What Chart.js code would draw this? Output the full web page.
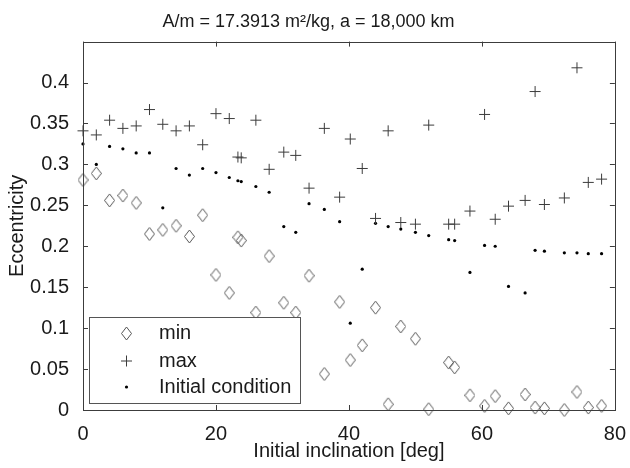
<!DOCTYPE html>
<html>
<head>
<meta charset="utf-8">
<script src="https://cdn.jsdelivr.net/npm/chart.js@4.4.0/dist/chart.umd.min.js"></script>
<style>
    body { margin: 0; background: #fff; }
    canvas { display: block; }
</style>
</head>
<body>
<canvas id="eccChart" width="630" height="468"></canvas>
<script>
// Data
const inclination = [0, 2, 4, 6, 8, 10, 12, 14, 16, 18, 20, 22, 23.3, 23.8, 26, 28, 30.2, 32, 34, 36.3,
    38.6, 40.2, 42, 44, 45.9, 47.8, 50, 52, 55, 55.9, 58.2, 60.4, 62, 64, 66.5, 68, 69.4, 72.4, 74.3, 76, 78];
const eccMin = [0.281, 0.289, 0.256, 0.262, 0.253, 0.215, 0.220, 0.225, 0.212, 0.238, 0.165, 0.143, 0.211, 0.207,
    0.119, 0.188, 0.131, 0.119, 0.164, 0.044, 0.132, 0.061, 0.079, 0.125, 0.007, 0.102, 0.087, 0.001, 0.058, 0.052,
    0.018, 0.005, 0.017, 0.002, 0.019, 0.003, 0.002, 0.000, 0.022, 0.003, 0.005];
const eccMax = [0.341, 0.336, 0.354, 0.344, 0.347, 0.367, 0.349, 0.341, 0.347, 0.324, 0.362, 0.356, 0.309, 0.308,
    0.354, 0.294, 0.315, 0.311, 0.271, 0.344, 0.260, 0.331, 0.295, 0.234, 0.341, 0.229, 0.227, 0.348, 0.227, 0.227,
    0.243, 0.361, 0.233, 0.249, 0.256, 0.389, 0.251, 0.259, 0.418, 0.278, 0.282];
const eccInit = [0.325, 0.300, 0.322, 0.319, 0.314, 0.314, 0.247, 0.295, 0.287, 0.295, 0.290, 0.284, 0.280, 0.279,
    0.273, 0.266, 0.224, 0.217, 0.252, 0.245, 0.230, 0.106, 0.172, 0.228, 0.224, 0.221, 0.217, 0.213, 0.208, 0.207,
    0.168, 0.201, 0.200, 0.151, 0.143, 0.195, 0.194, 0.192, 0.192, 0.191, 0.191];
const xTicks = [0, 20, 40, 60, 80];

const lineColor = '#3c3c3c';
const textColor = '#1a1a1a';
const fontFamily = '"Liberation Sans", Arial, sans-serif';

// tall diamond marker like matlab's 'd'
function makeDiamond() {
    const c = document.createElement('canvas');
    c.width = 11;
    c.height = 15;
    const g = c.getContext('2d');
    g.strokeStyle = '#555';
    g.lineWidth = 1;
    g.beginPath();
    g.moveTo(5.5, 1);
    g.lineTo(10.5, 7.5);
    g.lineTo(5.5, 14);
    g.lineTo(0.5, 7.5);
    g.closePath();
    g.stroke();
    return c;
}
const diamond = makeDiamond();

function toPoints(ys) {
    return inclination.map((x, i) => ({ x: x, y: ys[i] }));
}

// box + inward ticks on all four sides, plus the legend
const matlabFrame = {
    id: 'matlabFrame',
    afterDatasetsDraw(chart) {
        const { ctx, chartArea: a, scales } = chart;
        ctx.save();
        ctx.strokeStyle = lineColor;
        ctx.lineWidth = 1;
        ctx.strokeRect(Math.round(a.left) + 0.5, Math.round(a.top) + 0.5,
            Math.round(a.right - a.left), Math.round(a.bottom - a.top));

        const len = 5;
        ctx.beginPath();
        scales.x.ticks.forEach(t => {
            const px = Math.round(scales.x.getPixelForValue(t.value)) + 0.5;
            ctx.moveTo(px, a.bottom);
            ctx.lineTo(px, a.bottom - len);
            ctx.moveTo(px, a.top);
            ctx.lineTo(px, a.top + len);
        });
        scales.y.ticks.forEach(t => {
            const py = Math.round(scales.y.getPixelForValue(t.value)) + 0.5;
            ctx.moveTo(a.left, py);
            ctx.lineTo(a.left + len, py);
            ctx.moveTo(a.right, py);
            ctx.lineTo(a.right - len, py);
        });
        ctx.stroke();
        ctx.restore();
    },
    afterDraw(chart) {
        const ctx = chart.ctx;
        const box = { x: 89.5, y: 317.5, w: 211, h: 86 };
        ctx.save();
        ctx.fillStyle = '#fff';
        ctx.fillRect(box.x, box.y, box.w, box.h);
        ctx.strokeStyle = '#555';
        ctx.lineWidth = 1;
        ctx.strokeRect(box.x, box.y, box.w, box.h);

        const symX = 126.5;
        const textX = 159;
        const rows = [333.5, 361, 387];
        const labels = chart.data.datasets.map(d => d.label);

        ctx.drawImage(diamond, symX - 5.5, rows[0] - 7.5);

        ctx.strokeStyle = lineColor;
        ctx.beginPath();
        ctx.moveTo(symX - 5.5, rows[1]);
        ctx.lineTo(symX + 5.5, rows[1]);
        ctx.moveTo(symX, rows[1] - 5.5);
        ctx.lineTo(symX, rows[1] + 5.5);
        ctx.stroke();

        ctx.fillStyle = '#000';
        ctx.beginPath();
        ctx.arc(symX, rows[2], 1.6, 0, Math.PI * 2);
        ctx.fill();

        ctx.fillStyle = textColor;
        ctx.font = '20px ' + fontFamily;
        ctx.textBaseline = 'middle';
        labels.forEach((l, i) => ctx.fillText(l, textX, rows[i]));
        ctx.restore();
    }
};

const ctx = document.getElementById('eccChart').getContext('2d');
new Chart(ctx, {
    type: 'scatter',
    data: {
        datasets: [
            {
                label: 'min',
                data: toPoints(eccMin),
                pointStyle: diamond,
                clip: false
            },
            {
                label: 'max',
                data: toPoints(eccMax),
                pointStyle: 'cross',
                pointRadius: 5.5,
                borderColor: lineColor,
                borderWidth: 1,
                clip: false
            },
            {
                label: 'Initial condition',
                data: toPoints(eccInit),
                pointStyle: 'circle',
                pointRadius: 1.6,
                backgroundColor: '#000',
                borderColor: '#000',
                borderWidth: 0,
                clip: false
            }
        ]
    },
    options: {
        responsive: false,
        animation: false,
        devicePixelRatio: 1,
        layout: { padding: { left: 0, right: 13, top: 0, bottom: 0 } },
        plugins: {
            legend: { display: false },
            tooltip: { enabled: false },
            title: {
                display: true,
                text: 'A/m = 17.3913 m\u00b2/kg, a = 18,000 km',
                color: textColor,
                font: { family: fontFamily, size: 18, weight: 'normal' },
                padding: { top: 11, bottom: 9 }
            }
        },
        scales: {
            x: {
                type: 'linear',
                min: 0,
                max: 80,
                afterBuildTicks: scale => { scale.ticks = xTicks.map(v => ({ value: v })); },
                grid: { display: false },
                border: { display: false },
                ticks: {
                    color: textColor,
                    padding: 4,
                    font: { family: fontFamily, size: 20 }
                },
                title: {
                    display: true,
                    text: 'Initial inclination [deg]',
                    color: textColor,
                    font: { family: fontFamily, size: 20 },
                    padding: { top: 0, bottom: 5 }
                },
                afterFit: scale => { scale.height = 58; }
            },
            y: {
                min: 0,
                max: 0.45,
                grid: { display: false },
                border: { display: false },
                ticks: {
                    stepSize: 0.05,
                    color: textColor,
                    padding: 6,
                    font: { family: fontFamily, size: 20 },
                    callback: v => v > 0.44 ? '' : String(+v.toFixed(2))
                },
                title: {
                    display: true,
                    text: 'Eccentricity',
                    color: textColor,
                    font: { family: fontFamily, size: 20 },
                    padding: { top: 5, bottom: 0 }
                },
                afterFit: scale => { scale.width = 83; }
            }
        }
    },
    plugins: [matlabFrame]
});
</script>
</body>
</html>
